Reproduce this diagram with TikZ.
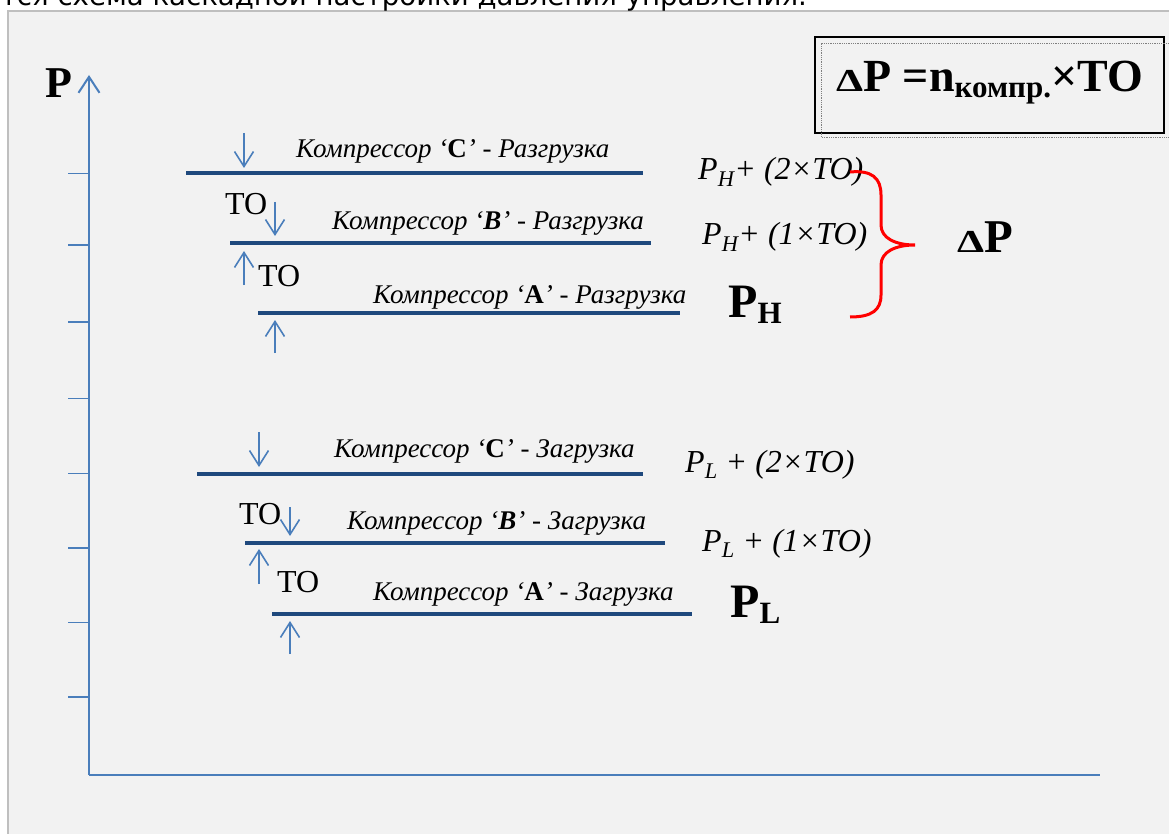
\documentclass[tikz,border=0pt]{standalone}
\usepackage{fontspec}
\usepackage{graphicx}
\setmainfont{Liberation Serif}
\newfontfamily\topfont{DejaVu Sans}
\usetikzlibrary{arrows.meta}
\definecolor{panel}{HTML}{F2F2F2}
\definecolor{panelborder}{HTML}{BFBFBF}
\definecolor{axisblue}{HTML}{4A7EBB}
\definecolor{levelblue}{HTML}{1F497D}
\newcommand{\fsz}[1]{\fontsize{#1}{#1}\selectfont}
\newcommand{\bup}[1]{\textbf{\upshape #1}}
\begin{document}
\begin{tikzpicture}[x=1pt,y=-1pt,
  axis/.style={draw=axisblue, line width=2pt},
  tickmark/.style={draw=axisblue, line width=1.6pt},
  level/.style={draw=levelblue, line width=4.5pt},
  marker/.style={draw=axisblue, line width=1.6pt, -{Straight Barb[length=15pt,width=19pt,line width=1.6pt]}},
  lbl/.style={anchor=base west, inner sep=0pt, font=\fsz{27}\itshape},
  rlbl/.style={anchor=base west, inner sep=0pt, font=\fsz{32}\itshape},
  tolbl/.style={anchor=base west, inner sep=0pt, font=\fsz{32}},
  biglbl/.style={anchor=base west, inner sep=0pt, font=\fsz{48}\bfseries},
]
\useasboundingbox (0,0) rectangle (1169,834);
\fill[white] (0,0) rectangle (1169,834);
\filldraw[fill=panel, draw=panelborder, line width=1.5pt] (8,11) rectangle (1185,850);
\node[anchor=base east, inner sep=0pt, font=\topfont\fsz{27.6}] (cap) at (807,6) {тся схема каскадной настройки давления управления.};

% axes
\coordinate (O) at (89,775);
\coordinate (Ytop) at (89,75);
\coordinate (Xend) at (1100,775);
\draw[axis, -{Straight Barb[length=16pt,width=21pt,line width=2pt]}] (O) -- (Ytop);
\draw[axis] (O) -- (Xend);
\foreach \y in {173.5,245,322,398.5,473.5,548,622.5,697} \draw[tickmark] (68,\y) -- (89,\y);
\node[anchor=base west, inner sep=0pt, font=\fsz{44}\bfseries] (plabel) at (45,98) {P};

% unload levels
\draw[level] (186,173) -- (643,173);
\draw[level] (230,243) -- (651,243);
\draw[level] (258,313) -- (680,313);
% load levels
\draw[level] (197,474) -- (643,474);
\draw[level] (245,543) -- (665,543);
\draw[level] (272,614) -- (692,614);

% markers
\draw[marker] (244,133) -- (244,168);
\draw[marker] (275,202) -- (275,236);
\draw[marker] (244,285) -- (244,251);
\draw[marker] (275,353) -- (275,320);
\draw[marker] (259,432) -- (259,467);
\draw[marker] (290,507) -- (290,536);
\draw[marker] (259,584) -- (259,549);
\draw[marker] (290,654) -- (290,621);

% TO labels
\node[tolbl] (to1) at (225,215) {TO};
\node[tolbl] (to2) at (258,287) {TO};
\node[tolbl] (to3) at (239,524) {TO};
\node[tolbl] (to4) at (277,592) {TO};

% compressor labels
\node[lbl] (cu) at (296,158) {Компрессор ‘\bup{C}’ - Разгрузка};
\node[lbl] (bu) at (332,230) {Компрессор ‘\textbf{B}’ - Разгрузка};
\node[lbl] (au) at (373,303) {Компрессор ‘\bup{A}’ - Разгрузка};
\node[lbl] (cl) at (334,457) {Компрессор ‘\bup{C}’ - Загрузка};
\node[lbl] (bl) at (347,529) {Компрессор ‘\textbf{B}’ - Загрузка};
\node[lbl] (al) at (373,600) {Компрессор ‘\bup{A}’ - Загрузка};

% right labels
\node[rlbl] (ph2) at (698,180) {P\textsubscript{H}+ (2×TO)};
\node[rlbl] (ph1) at (702,245) {P\textsubscript{H}+ (1×TO)};
\node[biglbl] (ph) at (728,317) {P\raisebox{-6pt}{\fsz{31}H}};
\node[rlbl] (pl2) at (685,472) {P\textsubscript{L} + (2×TO)};
\node[rlbl] (pl1) at (702,551) {P\textsubscript{L} + (1×TO)};
\node[biglbl] (pl) at (730,617) {P\raisebox{-6pt}{\fsz{31}L}};

% brace
\draw[red, line width=3pt] (850,172) .. controls (872,170) and (881,178) .. (881,195) -- (881,225) .. controls (881,238) and (895,245) .. (915,245) .. controls (895,245) and (881,252) .. (881,265) -- (881,295) .. controls (881,310) and (872,317) .. (850,317);
\node[anchor=base west, inner sep=0pt, font=\bfseries] (dp) at (957,252) {\scalebox{1.35}[1]{\fsz{32}Δ}\fsz{47}P};

% formula box
\draw[black, line width=1.5pt] (815,37) rectangle (1164,133);
\draw[gray, densely dotted, line width=0.8pt] (1185,43) -- (821,43) -- (821,137) -- (1185,137);
\node[anchor=base west, inner sep=0pt, font=\bfseries] (formula) at (836,92) {\scalebox{1.35}[1]{\fsz{32}Δ}\fsz{46}P =n\raisebox{-6pt}{\fsz{31}компр.}×TO};
\end{tikzpicture}
\end{document}
